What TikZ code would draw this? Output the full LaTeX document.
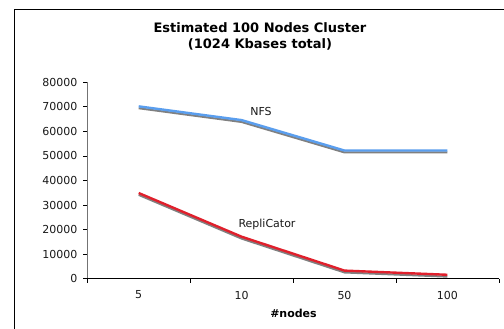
\documentclass[tikz,border=0pt]{standalone}
\usepackage{fontspec}
\setmainfont{DejaVu Sans}
\begin{document}
\begin{tikzpicture}[x=1pt,y=-1pt,
  ticklab/.style={font=\fontsize{11}{13}\selectfont, text=black!90},
  serieslab/.style={font=\fontsize{11}{13}\selectfont, text=black!90},
  shadowline/.style={line width=2pt, draw=black!50, line join=round},
  nfsline/.style={line width=2.4pt, draw=nfsblue, line join=round},
  repline/.style={line width=2.4pt, draw=repred, line join=round}]
\definecolor{nfsblue}{HTML}{5A9EEE}
\definecolor{repred}{HTML}{E0202C}
\useasboundingbox (0,0) rectangle (504,329);
\fill[white] (0,0) rectangle (504,329);
% chart frame (runs off the page to the right and bottom)
\draw[black, line width=0.8pt] (14,330) -- (14,9) -- (505,9);
% title
\node[font=\bfseries\fontsize{13}{16.5}\selectfont, align=center] (title) at (260,36.5)
  {Estimated 100 Nodes Cluster\\(1024 Kbases total)};
% axes
\coordinate (yorig) at (87.3,278.7);
\coordinate (ytop) at (87.3,82.3);
\coordinate (xend) at (499,278.7);
\draw[black!55, line width=1pt] (yorig) -- (ytop);
\draw[black, line width=0.8pt] (yorig) -- (xend);
% y ticks and labels (position computed in thousands)
\foreach \k/\lab [count=\i] in {0/0,10/10000,20/20000,30/30000,40/40000,50/50000,60/60000,70/70000,80/80000} {
  \pgfmathsetmacro{\yy}{278.7-2.455*\k}
  \draw[black, line width=0.7pt] (83.3,\yy) -- (87.3,\yy);
  \node[ticklab, anchor=east, inner sep=0pt] (ylab\i) at (77.5,\yy) {\lab};
}
% x ticks and labels
\foreach \xx in {87.3,190.2,293.1,396,498.9}
  \draw[black, line width=0.7pt] (\xx,278.7) -- (\xx,282.5);
\foreach \xx/\t [count=\i] in {138.7/5,241.6/10,344.5/50,447.4/100}
  \node[ticklab, inner sep=0pt] (xlab\i) at (\xx,295) {\t};
\node[font=\bfseries\fontsize{11}{13}\selectfont, inner sep=0pt] (xtitle) at (293.5,313.5) {\#nodes};
% data points (thousands)
\foreach \xx/\nv/\rv [count=\i] in {138.7/70.2/34.9, 241.6/64.6/17.1, 344.5/52.2/3.3, 447.4/52.2/1.6} {
  \coordinate (n\i) at (\xx,{278.7-2.455*\nv});
  \coordinate (r\i) at (\xx,{278.7-2.455*\rv});
}
% series with drop shadow
\draw[shadowline, transform canvas={yshift=-1.9pt}] (n1) -- (n2) -- (n3) -- (n4);
\draw[nfsline] (n1) -- (n2) -- (n3) -- (n4);
\draw[shadowline, transform canvas={yshift=-1.9pt}] (r1) -- (r2) -- (r3) -- (r4);
\draw[repline] (r1) -- (r2) -- (r3) -- (r4);
% series labels
\node[serieslab, inner sep=0pt] (nfslab) at (261,111) {NFS};
\node[serieslab, inner sep=0pt] (replab) at (267,224) {RepliCator};
\end{tikzpicture}
\end{document}
